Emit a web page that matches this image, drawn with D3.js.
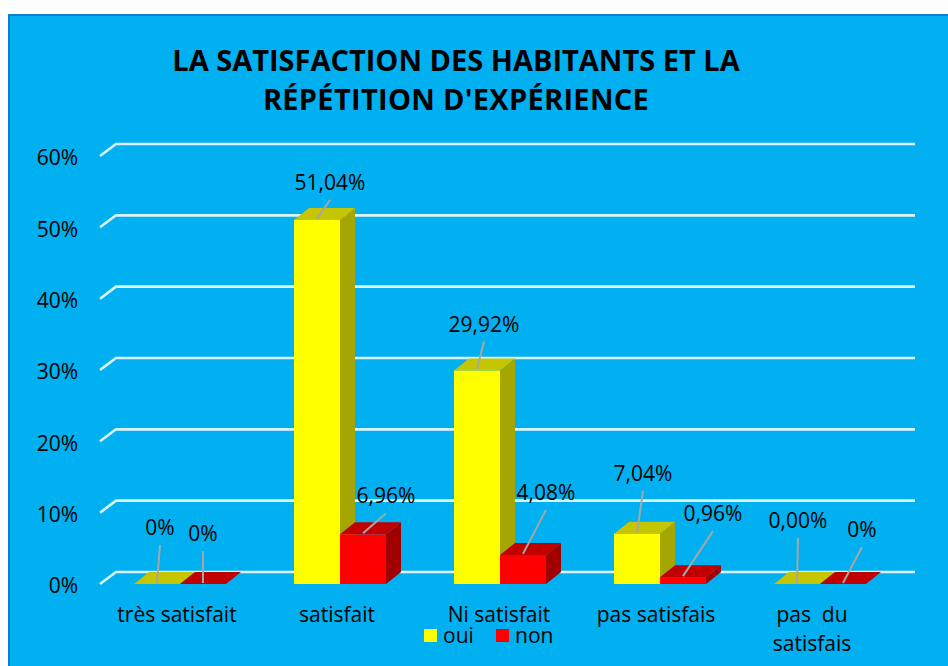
<!DOCTYPE html>
<html>
<head>
<meta charset="utf-8">
<script src="https://cdn.jsdelivr.net/npm/d3@7"></script>
<style>
  html, body { margin: 0; padding: 0; background: #fff; }
  text { font-family: "Open Sans", sans-serif; fill: #000; }
</style>
</head>
<body>
<div id="vis"></div>
<script>
// data
var categories = ["très satisfait", "satisfait", "Ni satisfait", "pas satisfais", "pas  du|satisfais"];
var seriesNames = ["oui", "non"];
var ouiValues = [0, 51.04, 29.92, 7.04, 0];
var nonValues = [0, 6.96, 4.08, 0.96, 0];
var ouiLabels = ["0%", "51,04%", "29,92%", "7,04%", "0,00%"];
var nonLabels = ["0%", "6,96%", "4,08%", "0,96%", "0%"];
var yTicks = [0, 10, 20, 30, 40, 50, 60];

// end of each leader line, relative to the top centre of its bar
var ouiLeader = [[3, -39], [13, -20], [7, -29], [6, -43], [1, -46]];
var nonLeader = [[0, -33], [23, -21], [23, -45], [30, -46], [19, -37]];
// the category labels do not sit exactly under their groups
var categoryShift = [-3, -3, -1, -4, -8];

var width = 948, height = 666;
var depthX = 15, depthY = -12;

var colors = {
  oui: {front: "#ffff00", top: "#c6c600", side: "#a6a600"},
  non: {front: "#ff0000", top: "#c00000", side: "#a00000"}
};

var svg = d3.select("#vis").append("svg")
    .attr("width", width)
    .attr("height", height)
    .style("display", "block");

// panel
svg.append("rect")
    .attr("x", 9).attr("y", 15)
    .attr("width", width).attr("height", height)
    .attr("fill", "#00b0f0")
    .attr("stroke", "#0b7fce")
    .attr("stroke-width", 2);

// title
var title = svg.append("text")
    .attr("text-anchor", "middle")
    .style("font-size", "29px")
    .style("font-weight", "700");
title.append("tspan").attr("x", 456).attr("y", 71).text("LA SATISFACTION DES HABITANTS ET LA");
title.append("tspan").attr("x", 456).attr("y", 110).style("letter-spacing", "0.3px").text("RÉPÉTITION D'EXPÉRIENCE");

// scales
var y = d3.scaleLinear().domain([0, 60]).range([584, 156]);
var x0 = d3.scaleBand().domain(categories).range([100, 900]).paddingInner(0.425).paddingOuter(0.2125);
var x1 = d3.scaleBand().domain(seriesNames).range([0, x0.bandwidth()]);

// y axis, tick labels only
var yAxis = svg.append("g")
    .attr("transform", "translate(100,1)")
    .call(d3.axisLeft(y).tickValues(yTicks).tickSize(0).tickPadding(22).tickFormat(function(d) { return d + "%"; }));
yAxis.select(".domain").remove();
yAxis.selectAll("text")
    .style("font-size", "21px")
    .style("font-family", "'Open Sans', sans-serif")
    .attr("dy", "0.38em");

// gridlines, with the oblique foot on the floor
var gridLine = d3.line();
svg.append("g").selectAll("path")
    .data(yTicks)
    .enter().append("path")
    .attr("d", function(d) {
      return gridLine([[100, y(d)], [100 + depthX + 1, y(d) + depthY], [915, y(d) + depthY]]);
    })
    .attr("fill", "none")
    .attr("stroke", "#dcf4fc")
    .attr("stroke-width", 2.6);

// 3d bars
var bars = [];
categories.forEach(function(c, i) {
  bars.push({cat: c, s: "oui", v: ouiValues[i], label: ouiLabels[i], leader: ouiLeader[i]});
  bars.push({cat: c, s: "non", v: nonValues[i], label: nonLabels[i], leader: nonLeader[i]});
});

function barX(d) { return x0(d.cat) + x1(d.s); }
function poly(points) { return points.map(function(p) { return p.join(","); }).join(" "); }

var barG = svg.append("g").selectAll("g")
    .data(bars)
    .enter().append("g");

barG.append("polygon")
    .attr("fill", function(d) { return colors[d.s].side; })
    .attr("points", function(d) {
      var r = barX(d) + x1.bandwidth();
      return poly([[r, y(0)], [r + depthX, y(0) + depthY], [r + depthX, y(d.v) + depthY], [r, y(d.v)]]);
    });

barG.append("polygon")
    .attr("fill", function(d) { return colors[d.s].top; })
    .attr("points", function(d) {
      var l = barX(d), r = l + x1.bandwidth();
      return poly([[l, y(d.v)], [r, y(d.v)], [r + depthX, y(d.v) + depthY], [l + depthX, y(d.v) + depthY]]);
    });

barG.append("rect")
    .attr("fill", function(d) { return colors[d.s].front; })
    .attr("x", barX)
    .attr("y", function(d) { return y(d.v); })
    .attr("width", x1.bandwidth())
    .attr("height", function(d) { return y(0) - y(d.v); });

// leader lines and value labels
var labelG = svg.append("g").selectAll("g")
    .data(bars)
    .enter().append("g")
    .attr("transform", function(d) {
      return "translate(" + (barX(d) + x1.bandwidth() / 2) + "," + y(d.v) + ")";
    });

labelG.append("line")
    .attr("x1", 0).attr("y1", -1)
    .attr("x2", function(d) { return d.leader[0]; })
    .attr("y2", function(d) { return d.leader[1]; })
    .attr("stroke", "#a6a6a6")
    .attr("stroke-width", 2);

labelG.append("text")
    .attr("text-anchor", "middle")
    .attr("x", function(d) { return d.leader[0]; })
    .attr("y", function(d) { return d.leader[1] - 10; })
    .style("font-size", "21px")
    .text(function(d) { return d.label; });

// category labels
svg.append("g").selectAll("text")
    .data(categories)
    .enter().append("text")
    .attr("text-anchor", "middle")
    .style("font-size", "21px")
    .style("white-space", "pre")
    .each(function(c, n) {
      var self = d3.select(this);
      c.split("|").forEach(function(part, i) {
        self.append("tspan")
            .attr("x", x0(c) + x0.bandwidth() / 2 + categoryShift[n])
            .attr("y", 622 + i * 29)
            .text(part);
      });
    });

// legend
var legend = svg.append("g").selectAll("g")
    .data(seriesNames)
    .enter().append("g")
    .attr("transform", function(d, i) { return "translate(" + (424 + i * 72) + ",629)"; });

legend.append("rect")
    .attr("width", 13).attr("height", 13)
    .attr("fill", function(d) { return colors[d].front; });

legend.append("text")
    .attr("x", 19).attr("y", 14)
    .style("font-size", "21px")
    .text(function(d) { return d; });
</script>
</body>
</html>
